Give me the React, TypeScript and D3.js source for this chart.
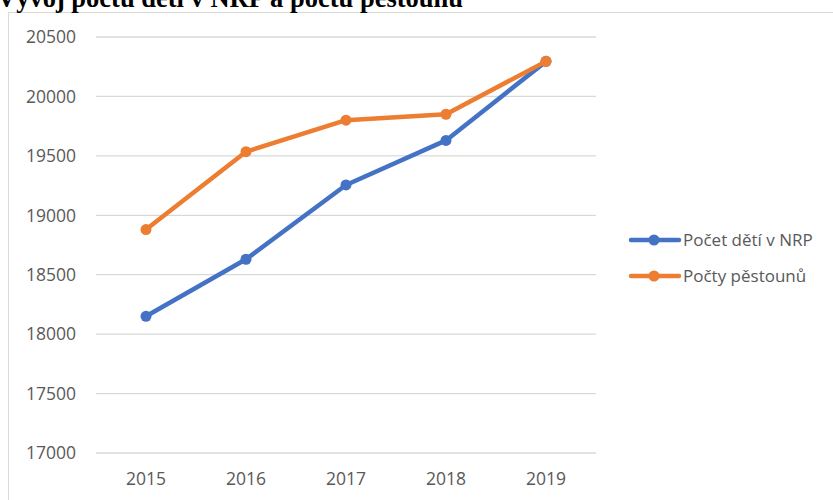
import React from 'react';
import * as d3 from 'd3';

const years = ['2015', '2016', '2017', '2018', '2019'];
const childrenNRP = [18150, 18630, 19255, 19630, 20295];
const fosterParents = [18880, 19535, 19800, 19850, 20295];
const yTicks = [17000, 17500, 18000, 18500, 19000, 19500, 20000, 20500];

const seriesList = [
  { name: 'Počet dětí v NRP', values: childrenNRP, color: '#4472C4' },
  { name: 'Počty pěstounů', values: fosterParents, color: '#ED7D31' },
];

const W = 833;
const H = 500;
const labelFont = '"Open Sans", "Noto Sans", sans-serif';

export default function App() {
  const x = d3.scaleBand<string>().domain(years).range([96, 596]);
  const y = d3.scaleLinear().domain([17000, 20500]).range([453, 37]);
  const cx = (d: string) => (x(d) || 0) + x.bandwidth() / 2;

  const line = d3.line<number>()
    .x((_, i) => cx(years[i]))
    .y(v => y(v));

  return (
    <svg width={W} height={H} style={{ position: 'fixed', left: 0, top: 0, background: '#fff' }}>
      {/* chart area border */}
      <rect x={8.5} y={12.5} width={W} height={H} fill="none" stroke="#d9d9d9" strokeWidth={1} />

      <text x={-3} y={7} fontFamily='"Liberation Serif", "Times New Roman", serif' fontWeight="bold" fontSize={26.5} fill="#000">
        Vývoj počtu dětí v NRP a počtu pěstounů
      </text>

      {/* grid + y labels */}
      {yTicks.map(t => (
        <g key={t}>
          <line x1={96} x2={596} y1={y(t)} y2={y(t)} stroke="#d9d9d9" strokeWidth={1.3} />
          <text x={76} y={y(t)} dy="0.36em" textAnchor="end" fontFamily={labelFont} fontSize={17.5} fill="#595959">
            {t}
          </text>
        </g>
      ))}

      {/* x labels */}
      {years.map(yr => (
        <text key={yr} x={cx(yr)} y={485} textAnchor="middle" fontFamily={labelFont} fontSize={17.5} fill="#595959">
          {yr}
        </text>
      ))}

      {/* series */}
      {seriesList.map(s => (
        <g key={s.name}>
          <path d={line(s.values) || ''} fill="none" stroke={s.color} strokeWidth={4.5} strokeLinejoin="round" strokeLinecap="round" />
          {s.values.map((v, i) => (
            <circle key={i} cx={cx(years[i])} cy={y(v)} r={5.5} fill={s.color} />
          ))}
        </g>
      ))}

      {/* legend */}
      {seriesList.map((s, i) => {
        const ly = 240 + i * 36;
        return (
          <g key={s.name}>
            <line x1={631} x2={679} y1={ly} y2={ly} stroke={s.color} strokeWidth={4.5} strokeLinecap="round" />
            <circle cx={654} cy={ly} r={5.5} fill={s.color} />
            <text x={683} y={ly} dy="0.36em" fontFamily={labelFont} fontSize={17} fill="#595959">
              {s.name}
            </text>
          </g>
        );
      })}
    </svg>
  );
}
